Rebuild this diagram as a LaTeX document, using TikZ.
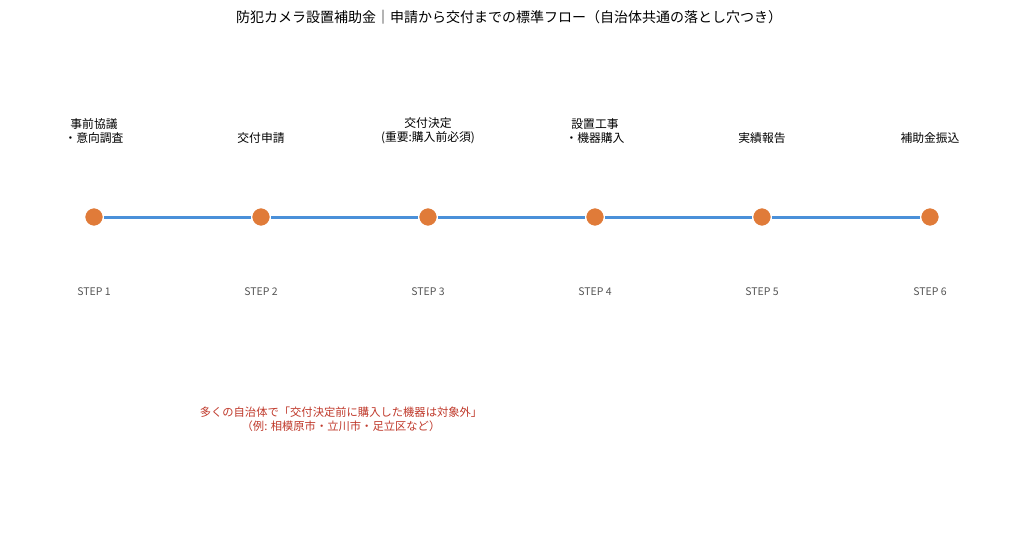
\documentclass[tikz,border=0pt]{standalone}
\usepackage{fontspec}
\setmainfont{Noto Sans CJK JP}
\usepackage{tikz}
\usetikzlibrary{calc,positioning}

\definecolor{flowblue}{HTML}{4A90D9}
\definecolor{dotorange}{HTML}{E07B39}
\definecolor{notered}{HTML}{C0392B}
\definecolor{stepgray}{HTML}{555555}

\begin{document}
\begin{tikzpicture}[x=1pt,y=-1pt,
  dot/.style={circle,fill=dotorange,draw=white,line width=1.5pt,minimum size=19pt,inner sep=0pt},
  stage/.style={font=\fontsize{11.8}{14}\selectfont,align=center,anchor=south,inner sep=0pt},
  steplbl/.style={font=\fontsize{10.5}{12}\selectfont,text=stepgray},
  link/.style={flowblue,line width=3pt}]
\fill[white] (0,0) rectangle (1024,559);
\useasboundingbox (0,0) rectangle (1024,559);

\node[font=\fontsize{14}{16}\selectfont] (title) at (509,17)
  {防犯カメラ設置補助金｜申請から交付までの標準フロー（自治体共通の落とし穴つき）};

% the six stages
\foreach \i/\x in {1/94,2/261,3/428,4/595,5/762,6/930}
  \node[dot] (s\i) at (\x,217) {};
\foreach \i [remember=\i as \j (initially 1)] in {2,...,6}
  \draw[link] (s\j) -- (s\i);

\foreach \i/\t in {1/{事前協議\\・意向調査},2/交付申請,3/{交付決定\\(重要:購入前必須)},
                   4/{設置工事\\・機器購入},5/実績報告,6/補助金振込}
  \node[stage] (t\i) at ($(s\i)+(0,-73)$) {\t};

\foreach \i in {1,...,6}
  \node[steplbl] (n\i) at ($(s\i)+(0,75)$) {STEP \i};

\node[text=notered,align=center,font=\fontsize{11.3}{14}\selectfont] (note) at (341,419)
  {多くの自治体で「交付決定前に購入した機器は対象外」\\（例: 相模原市・立川市・足立区など）};
\end{tikzpicture}
\end{document}
